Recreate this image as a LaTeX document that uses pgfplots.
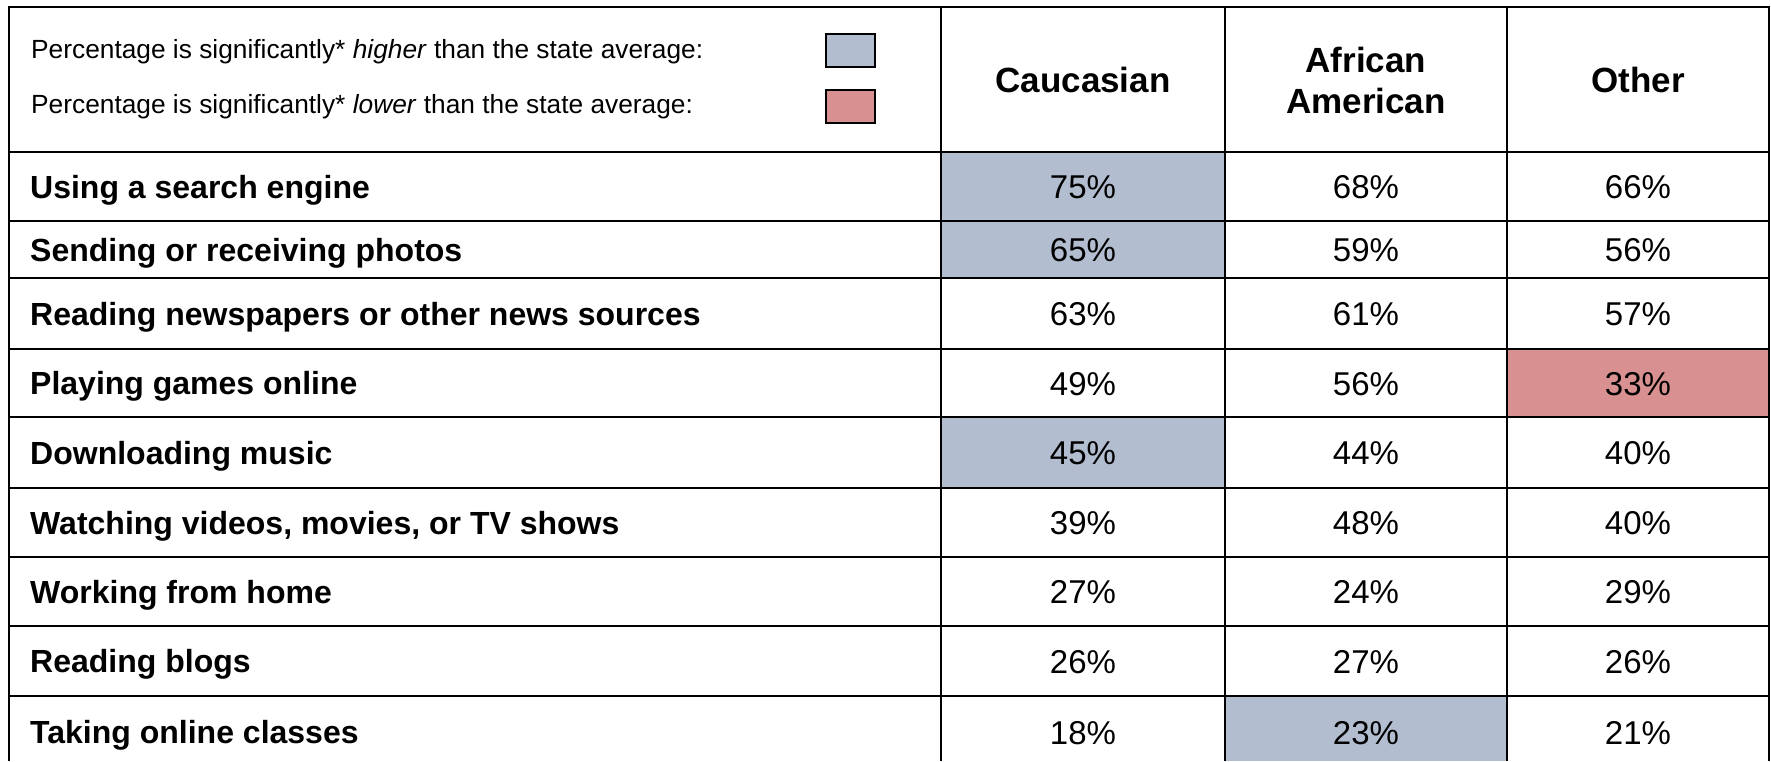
\documentclass[border=0pt]{standalone}
\usepackage{pgfplots}
\pgfplotsset{compat=1.18}
\usepackage{pgfplotstable}
\usepackage{fontspec}
\setmainfont{Liberation Sans}
\definecolor{hiblue}{HTML}{B3BDD0}
\definecolor{lored}{HTML}{D99090}

% row labels, y is the text baseline (pixel grid of the original)
\pgfplotstableread[col sep=semicolon]{
x;y;label
30;198;Using a search engine
30;261;Sending or receiving photos
30;325;Reading newspapers or other news sources
30;394.5;Playing games online
30;464;Downloading music
30;534;Watching videos, movies, or TV shows
30;603;Working from home
30;672.5;Reading blogs
30;743.5;Taking online classes
}\rowlabels

% percentages: Caucasian, African American, Other
\pgfplotstableread{
x y v
1083 198.5 75
1366 198.5 68
1638 198.5 66
1083 261.5 65
1366 261.5 59
1638 261.5 56
1083 325.5 63
1366 325.5 61
1638 325.5 57
1083 395 49
1366 395 56
1638 395 33
1083 464.5 45
1366 464.5 44
1638 464.5 40
1083 534.5 39
1366 534.5 48
1638 534.5 40
1083 603.5 27
1366 603.5 24
1638 603.5 29
1083 673 26
1366 673 27
1638 673 26
1083 744 18
1366 744 23
1638 744 21
}\values

\begin{document}
\begin{tikzpicture}
\begin{axis}[
  width=1771pt, height=761pt, scale only axis,
  xmin=0, xmax=1771, ymin=0, ymax=761,
  y dir=reverse, hide axis, clip=true]

% bounding box
\addplot[draw=none] coordinates {(0,0)(1771,761)};

% highlighted cells
\addplot[fill=hiblue, draw=none] coordinates {(941,152)(1225,152)(1225,221)(941,221)};
\addplot[fill=hiblue, draw=none] coordinates {(941,221)(1225,221)(1225,278)(941,278)};
\addplot[fill=hiblue, draw=none] coordinates {(941,417)(1225,417)(1225,488)(941,488)};
\addplot[fill=hiblue, draw=none] coordinates {(1225,696)(1507,696)(1507,761)(1225,761)};
\addplot[fill=lored, draw=none] coordinates {(1507,349)(1769,349)(1769,417)(1507,417)};

% legend swatches
\addplot[fill=hiblue, draw=black, line width=2pt] coordinates {(826,34)(875,34)(875,67)(826,67)} -- cycle;
\addplot[fill=lored, draw=black, line width=2pt] coordinates {(826,90)(875,90)(875,123)(826,123)} -- cycle;

% grid lines
\addplot[black, line width=2.2pt] coordinates {(8,7)(1770,7)};
\addplot[black, line width=2.2pt] coordinates {(8,152)(1770,152)};
\addplot[black, line width=2.2pt] coordinates {(8,221)(1770,221)};
\addplot[black, line width=2.2pt] coordinates {(8,278)(1770,278)};
\addplot[black, line width=2.2pt] coordinates {(8,349)(1770,349)};
\addplot[black, line width=2.2pt] coordinates {(8,417)(1770,417)};
\addplot[black, line width=2.2pt] coordinates {(8,488)(1770,488)};
\addplot[black, line width=2.2pt] coordinates {(8,557)(1770,557)};
\addplot[black, line width=2.2pt] coordinates {(8,626)(1770,626)};
\addplot[black, line width=2.2pt] coordinates {(8,696)(1770,696)};
\addplot[black, line width=2.2pt] coordinates {(9,7)(9,761)};
\addplot[black, line width=2.2pt] coordinates {(941,7)(941,761)};
\addplot[black, line width=2.2pt] coordinates {(1225,7)(1225,761)};
\addplot[black, line width=2.2pt] coordinates {(1507,7)(1507,761)};
\addplot[black, line width=2.2pt] coordinates {(1769,7)(1769,761)};

% row labels
\addplot[draw=none, mark=none, nodes near coords, point meta=explicit symbolic,
  nodes near coords style={anchor=base west, inner sep=0pt,
    font=\fontsize{32}{38}\selectfont\bfseries}]
  table[x=x, y=y, meta=label] {\rowlabels};

% values
\addplot[draw=none, mark=none, nodes near coords={\pgfplotspointmeta\%},
  point meta=explicit symbolic,
  nodes near coords style={anchor=base, inner sep=0pt,
    font=\fontsize{33}{39}\selectfont}]
  table[x=x, y=y, meta=v] {\values};

% header
\node[font=\fontsize{35}{41}\selectfont\bfseries] at (axis cs:1083,80) {Caucasian};
\node[font=\fontsize{35}{41}\selectfont\bfseries, align=center] at (axis cs:1366,80) {African\\American};
\node[font=\fontsize{35}{41}\selectfont\bfseries] at (axis cs:1638,80) {Other};

% legend text
\node[anchor=base west, inner sep=0pt, font=\fontsize{26.3}{31}\selectfont] at (axis cs:31,58.5)
  {Percentage is significantly* \textit{higher} than the state average:};
\node[anchor=base west, inner sep=0pt, font=\fontsize{26.3}{31}\selectfont] at (axis cs:31,113)
  {Percentage is significantly* \textit{lower} than the state average:};
\end{axis}
\end{tikzpicture}
\end{document}
